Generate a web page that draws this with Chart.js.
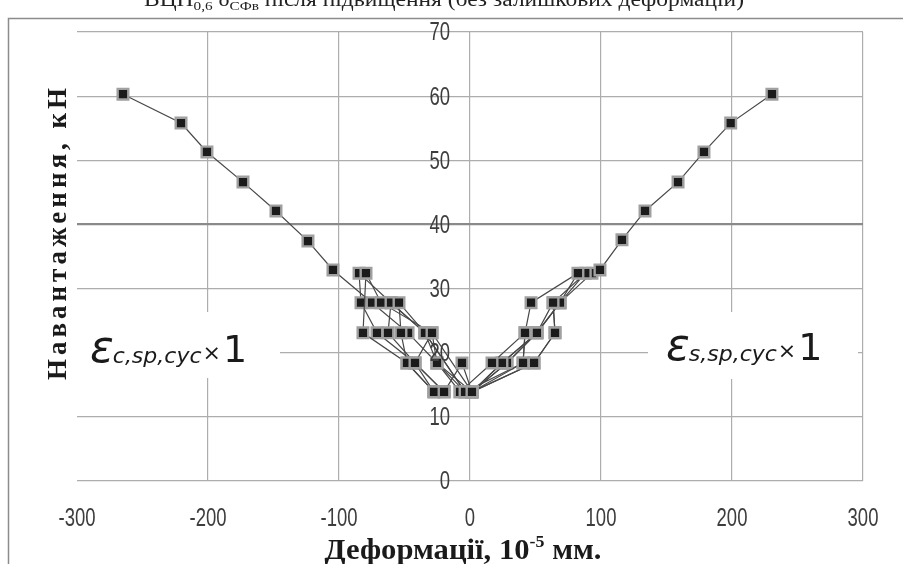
<!DOCTYPE html>
<html lang="uk">
<head>
<meta charset="utf-8">
<title>Навантаження – деформації</title>
<script src="https://cdn.jsdelivr.net/npm/chart.js@4.4.1/dist/chart.umd.min.js"></script>
<style>
    html, body { margin: 0; padding: 0; background: #fff; }
    canvas { display: block; }
</style>
</head>
<body>
<canvas id="chart" width="903" height="564"></canvas>
<script>
// Tick values of both axes
const xTicks = [-300, -200, -100, 0, 100, 200, 300];
const yTicks = [0, 10, 20, 30, 40, 50, 60, 70];

// Concrete (compressed zone) strain, 10^-5, one row per loading cycle
const concreteStrain = [
    [1.5, -6.1, -19.8],
    [-3.8, -25.2, -29.0, -42.0, -27.5],
    [-7.6, -25.2, -34.4, -54.2, -52.7, -48.1, -27.5],
    [-3.8, -34.4, -60.3, -62.6, -42.0, -19.8],
    [1.5, -29.0, -67.9, -79.4, -81.7, -48.1, -27.5],
    [-3.8, -34.4, -60.3, -84.7, -83.2, -71.0, -42.0, -19.8],
    [1.5, -25.2, -47.3, -74.8, -104.6, -123.7, -148.1, -173.3, -200.8, -220.6, -264.9]
];
const concreteLoad = [
    [13.9, 18.4, 13.9],
    [13.9, 18.4, 23.1, 18.4, 13.9],
    [13.9, 18.4, 23.1, 27.8, 23.1, 18.4, 13.9],
    [13.9, 23.1, 27.8, 23.1, 18.4, 13.9],
    [13.9, 23.1, 27.8, 32.4, 23.1, 18.4, 13.9],
    [13.9, 23.1, 27.8, 32.4, 27.8, 23.1, 18.4, 13.9],
    [13.9, 18.4, 23.1, 27.8, 32.9, 37.4, 42.1, 46.6, 51.3, 55.8, 60.3]
];

// Reinforcement (tension) strain, 10^-5, one row per loading cycle
const steelStrain = [
    [-7.6, 16.8, 42.0, 40.5, 1.5],
    [1.5, 24.4, 51.1, 63.4, 64.9, 48.9, 1.5],
    [1.5, 28.2, 51.1, 68.7, 82.4, 46.6, 42.0, 40.5, -3.8],
    [1.5, 24.4, 51.1, 68.7, 88.0, 63.4, 64.9, 48.9, 1.5],
    [1.5, 28.2, 51.1, 68.7, 93.1, 99.2, 116.0, 133.6, 158.8, 178.6, 199.0, 230.5]
];
const steelLoad = [
    [13.9, 18.4, 23.1, 18.4, 13.9],
    [13.9, 18.4, 23.1, 27.8, 23.1, 18.4, 13.9],
    [13.9, 18.4, 23.1, 27.8, 32.4, 27.8, 23.1, 18.4, 13.9],
    [13.9, 18.4, 23.1, 27.8, 32.4, 27.8, 23.1, 18.4, 13.9],
    [13.9, 18.4, 23.1, 27.8, 32.4, 32.9, 37.6, 42.1, 46.6, 51.3, 55.8, 60.3]
];

const seriesStyle = {
    showLine: true,
    borderColor: '#474747',
    borderWidth: 1.2,
    pointStyle: 'rect',
    pointRadius: 7.5,
    pointHoverRadius: 7.5,
    pointBackgroundColor: '#1b1b1b',
    pointBorderColor: '#a0a0a0',
    pointBorderWidth: 2.4
};

function toPoints(xs, ys) {
    return xs.map((x, i) => ({ x: x, y: ys[i] }));
}

const datasets = [];
concreteStrain.forEach((xs, i) => {
    datasets.push({ ...seriesStyle, label: 'εc,sp,cyc ' + (i + 1), data: toPoints(xs, concreteLoad[i]) });
});
steelStrain.forEach((xs, i) => {
    datasets.push({ ...seriesStyle, label: 'εs,sp,cyc ' + (i + 1), data: toPoints(xs, steelLoad[i]) });
});

// Text written in several pieces (normal / subscript / superscript),
// squeezed horizontally to the given width
function drawPieces(ctx, pieces, cx, baseline, width) {
    let total = 0;
    pieces.forEach(p => { ctx.font = p.font; total += ctx.measureText(p.text).width; });
    const k = width / total;
    ctx.save();
    ctx.translate(cx - width / 2, baseline);
    ctx.scale(k, 1);
    let x = 0;
    pieces.forEach(p => {
        ctx.font = p.font;
        ctx.fillText(p.text, x, p.dy || 0);
        x += ctx.measureText(p.text).width;
    });
    ctx.restore();
}

// narrow tick label (no condensed face installed, so squeeze a regular one)
function drawNarrow(ctx, text, x, y, align) {
    ctx.save();
    ctx.translate(x, y);
    ctx.scale(0.74, 1);
    ctx.textAlign = align;
    ctx.textBaseline = 'middle';
    ctx.fillText(text, 0, 0);
    ctx.restore();
}

function drawStrainLabel(ctx, box, x, baseline, sub) {
    ctx.fillStyle = '#fff';
    ctx.fillRect(box[0], box[1], box[2], box[3]);
    ctx.fillStyle = '#1a1a1a';
    ctx.textAlign = 'left';
    ctx.textBaseline = 'alphabetic';
    ctx.font = 'italic 44px "DejaVu Sans"';
    ctx.fillText('ε', x, baseline);
    x += ctx.measureText('ε').width - 1;
    ctx.font = 'italic 22px "DejaVu Sans"';
    ctx.fillText(sub, x, baseline + 1);
    x += ctx.measureText(sub).width + 1;
    ctx.font = '22px "DejaVu Sans"';
    ctx.fillText('×', x, baseline - 2);
    x += ctx.measureText('×').width + 2;
    ctx.font = '38px "DejaVu Sans"';
    ctx.fillText('1', x, baseline);
}

const decorations = {
    id: 'decorations',
    beforeDraw(chart) {
        const ctx = chart.ctx;
        ctx.save();
        ctx.fillStyle = '#fff';
        ctx.fillRect(0, 0, chart.width, chart.height);
        ctx.restore();
    },
    afterDraw(chart) {
        const ctx = chart.ctx;
        const sx = chart.scales.x;
        const sy = chart.scales.y;
        ctx.save();

        // tick labels: x below the plot, y beside the zero line
        ctx.font = '25px "Liberation Sans"';
        ctx.fillStyle = '#3d3d3d';
        sx.ticks.forEach(t => drawNarrow(ctx, String(t.value), sx.getPixelForValue(t.value), 519, 'center'));
        sy.ticks.forEach(t => drawNarrow(ctx, String(t.value), sx.getPixelForValue(0) - 20, sy.getPixelForValue(t.value) + 1.5, 'right'));

        // frame of the chart object
        ctx.strokeStyle = '#8c8c8c';
        ctx.lineWidth = 1.5;
        ctx.beginPath();
        ctx.moveTo(8.5, chart.height);
        ctx.lineTo(8.5, 18.5);
        ctx.lineTo(chart.width, 18.5);
        ctx.stroke();

        // caption above, mostly cut by the page edge
        ctx.fillStyle = '#222';
        ctx.textAlign = 'left';
        ctx.textBaseline = 'alphabetic';
        drawPieces(ctx, [
            { text: 'ВЦН', font: '20px "Liberation Serif"' },
            { text: '0,6', font: '13px "Liberation Serif"', dy: 4 },
            { text: ' δ', font: '20px "Liberation Serif"' },
            { text: 'СФв', font: '13px "Liberation Serif"', dy: 4 },
            { text: ' після підвищення (без залишкових деформацій)', font: '20px "Liberation Serif"' }
        ], 444, 6, 600);

        // y axis title
        ctx.save();
        ctx.translate(59, 232);
        ctx.rotate(-Math.PI / 2);
        ctx.font = 'bold 27px "Liberation Serif"';
        ctx.letterSpacing = '4px';
        ctx.textAlign = 'center';
        ctx.textBaseline = 'middle';
        ctx.fillStyle = '#1a1a1a';
        ctx.fillText('Навантаження, кН', 0, 0);
        ctx.restore();

        // x axis title
        ctx.fillStyle = '#1a1a1a';
        drawPieces(ctx, [
            { text: 'Деформації, 10', font: 'bold 29px "Liberation Serif"' },
            { text: '-5', font: 'bold 17px "Liberation Serif"', dy: -12 },
            { text: ' мм.', font: 'bold 29px "Liberation Serif"' }
        ], 463, 559, 277);

        // strain labels of both branches
        drawStrainLabel(ctx, [76, 312, 204, 66], 90, 362, 'c,sp,cyc');
        drawStrainLabel(ctx, [648, 312, 210, 67], 666, 360, 's,sp,cyc');

        ctx.restore();
    }
};

new Chart(document.getElementById('chart'), {
    type: 'scatter',
    data: { datasets: datasets },
    options: {
        responsive: false,
        animation: false,
        devicePixelRatio: 1,
        layout: { padding: { left: 77, right: 40, top: 32, bottom: 0 } },
        plugins: {
            legend: { display: false },
            tooltip: { enabled: false }
        },
        scales: {
            x: {
                type: 'linear',
                position: 'bottom',
                min: -300,
                max: 300,
                afterBuildTicks: s => { s.ticks = xTicks.map(v => ({ value: v })); },
                afterFit: s => { s.height = 83; },
                border: { display: false },
                grid: {
                    drawTicks: false,
                    color: c => (c.tick && c.tick.value === -300) ? 'rgba(0,0,0,0)' : '#adadad',
                    lineWidth: 1.2
                },
                ticks: { display: false }
            },
            y: {
                type: 'linear',
                position: { x: 0 },
                min: 0,
                max: 70,
                afterBuildTicks: s => { s.ticks = yTicks.map(v => ({ value: v })); },
                border: { display: false },
                grid: {
                    drawTicks: false,
                    color: c => (c.tick && c.tick.value === 40) ? '#8a8a8a' : '#adadad',
                    lineWidth: c => (c.tick && c.tick.value === 40) ? 2.2 : 1.2
                },
                ticks: { display: false }
            }
        }
    },
    plugins: [decorations]
});
</script>
</body>
</html>
